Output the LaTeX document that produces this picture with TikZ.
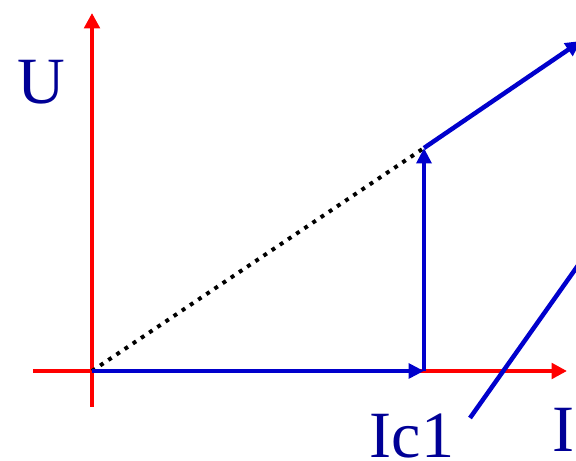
\documentclass[tikz,border=0pt]{standalone}
\usepackage{fontspec}
\setmainfont{Liberation Serif}
\usetikzlibrary{arrows.meta}
\definecolor{axisred}{RGB}{255,0,0}
\definecolor{vecblue}{RGB}{0,0,204}
\definecolor{labelblue}{RGB}{0,0,150}

\begin{document}
\begin{tikzpicture}[axis/.style={-{Triangle[length=11pt, width=11pt]}, line width=3.4pt, axisred}, vec/.style={-{Triangle[length=11pt, width=10.5pt]}, line width=3.2pt, vecblue}, guide/.style={line width=3.2pt, vecblue}, chord/.style={line width=2.8pt, black, dash pattern=on 2.8pt off 4.2pt}, label/.style={font=\fontsize{47}{50}\selectfont, text=labelblue, inner sep=0pt}]

\useasboundingbox (-2.3,-2.25) rectangle (12.1,9.275); \clip (-2.3,-2.25) rectangle (12.1,9.275);
\coordinate (O) at (0,0); \coordinate (Ubot) at (0,-0.9); \coordinate (Utop) at (0,8.95); \coordinate (Ileft) at (-1.475,0); \coordinate (Iright) at (11.875,0);
\coordinate (A) at (8.3,0); \coordinate (B) at (8.3,5.575); \coordinate (C) at (12.225,8.25); \coordinate (L1) at (9.45,-1.175); \coordinate (L2) at (12.6,3.275);
\draw[axis] (Ubot)--(Utop); \draw[axis] (Ileft)--(Iright);
\draw[chord] (O)--(B); \draw[vec] (O)--(A); \draw[vec] (A)--(B); \draw[vec] (B)--(C); \draw[guide] (L1)--(L2);
\node[label] (U) at (-1.275,7.225) {U}; \node[label] (Ic) at (8.0,-1.625) {Ic1}; \node[label] (I) at (11.775,-1.475) {I};
\end{tikzpicture}
\end{document}
